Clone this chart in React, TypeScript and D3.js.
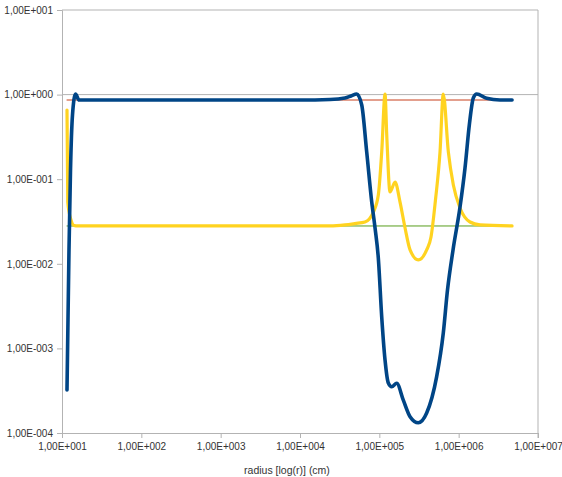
import React, { useRef, useEffect } from "react";
import * as d3 from "d3";

// series 1 (blue)
const blueR = [11.56, 11.9, 12.25, 12.8, 13.56, 14.8, 16.38, 19.5, 100, 1000, 10000, 23900, 36900, 44000, 51900, 60000, 69300, 80200, 88300, 97100, 107200, 118000, 129800, 143200, 165600, 200500, 244000, 310000, 395000, 528000, 640000, 723000, 849000, 1040000, 1202000, 1362000, 1530000, 1688000, 2250000, 3320000, 4710000];
const blueV = [3.22e-4, 2.17e-3, 1.46e-2, 0.1285, 0.574, 1.016, 0.863, 0.863, 0.863, 0.863, 0.863, 0.875, 0.912, 0.963, 1.016, 0.753, 0.21, 5.37e-2, 2.65e-2, 1.17e-2, 2.35e-3, 7.29e-4, 3.9e-4, 3.52e-4, 3.87e-4, 2.45e-4, 1.56e-4, 1.32e-4, 1.72e-4, 4.63e-4, 1.52e-3, 4.9e-3, 1.46e-2, 4.69e-2, 0.1355, 0.4375, 0.912, 1.016, 0.904, 0.863, 0.863];

// series 3 (yellow)
const yellowR = [11.56, 11.83, 12.98, 14.16, 15.91, 100, 1000, 10000, 23900, 36900, 49300, 65900, 84000, 97100, 107200, 118000, 124000, 136400, 157800, 182400, 211000, 244000, 310000, 395000, 448000, 510000, 582000, 640000, 741000, 857000, 1040000, 1390000, 1860000, 4710000];
const yellowV = [0.658, 5.37e-2, 3.3e-2, 2.84e-2, 2.8e-2, 2.8e-2, 2.8e-2, 2.8e-2, 2.8e-2, 2.88e-2, 2.99e-2, 3.12e-2, 4.09e-2, 6.5e-2, 0.21, 1.016, 0.333, 7.06e-2, 9.27e-2, 5.37e-2, 2.65e-2, 1.46e-2, 1.11e-2, 1.46e-2, 2.07e-2, 5.68e-2, 0.21, 1.016, 0.21, 8.53e-2, 4.57e-2, 3.12e-2, 2.88e-2, 2.8e-2];

// series 2 (red) and 4 (green), constant
const redR = [11.56, 4710000];
const redV = [0.863, 0.863];
const greenR = [11.56, 4710000];
const greenV = [0.028, 0.028];

const xTicks = [1e1, 1e2, 1e3, 1e4, 1e5, 1e6, 1e7];
const xTickLabels = ["1,00E+001", "1,00E+002", "1,00E+003", "1,00E+004", "1,00E+005", "1,00E+006", "1,00E+007"];
const yTicks = [1e1, 1e0, 1e-1, 1e-2, 1e-3, 1e-4];
const yTickLabels = ["1,00E+001", "1,00E+000", "1,00E-001", "1,00E-002", "1,00E-003", "1,00E-004"];

export default function App() {
  const ref = useRef<SVGSVGElement>(null);

  useEffect(() => {
    if (!ref.current) return;
    const svg = d3.select(ref.current);
    svg.selectAll("*").remove();

    const left = 62, right = 538, top = 10, bottom = 433;
    const x = d3.scaleLog().domain([1e1, 1e7]).range([left, right]);
    const y = d3.scaleLog().domain([1e-4, 1e1]).range([bottom, top]);
    const axisColor = "#b3b3b3";
    const font = "'Liberation Sans', Arial, sans-serif";

    // grid lines (only 1e1 and 1e0) and right border
    [1e1, 1e0].forEach((v) => {
      svg.append("line")
        .attr("x1", left).attr("x2", right)
        .attr("y1", y(v)).attr("y2", y(v))
        .attr("stroke", axisColor).attr("stroke-width", 1);
    });
    svg.append("line")
      .attr("x1", right).attr("x2", right)
      .attr("y1", top).attr("y2", bottom + 5)
      .attr("stroke", axisColor);

    // Y axis
    const yAxis = svg.append("g")
      .attr("transform", `translate(${left},0)`)
      .call(d3.axisLeft(y).tickValues(yTicks).tickSize(5).tickPadding(4)
        .tickFormat((_d, i) => yTickLabels[i]));
    // X axis
    const xAxis = svg.append("g")
      .attr("transform", `translate(0,${bottom})`)
      .call(d3.axisBottom(x).tickValues(xTicks).tickSize(5).tickPadding(5)
        .tickFormat((_d, i) => xTickLabels[i]));

    [yAxis, xAxis].forEach((g) => {
      g.select(".domain").attr("stroke", axisColor);
      g.selectAll(".tick line").attr("stroke", axisColor);
      g.selectAll("text")
        .attr("fill", "#333")
        .attr("font-size", "10px")
        .attr("font-family", font);
    });

    svg.append("text")
      .attr("x", 287).attr("y", 474)
      .attr("text-anchor", "middle")
      .attr("fill", "#333")
      .attr("font-size", "10.5px")
      .attr("font-family", font)
      .text("radius [log(r)] (cm)");

    const line = d3.line<[number, number]>()
      .x((d) => x(d[0]))
      .y((d) => y(d[1]))
      .curve(d3.curveMonotoneX);

    const series = [
      { r: redR, v: redV, color: "#c8401c", w: 1 },
      { r: greenR, v: greenV, color: "#579d1c", w: 1 },
      { r: yellowR, v: yellowV, color: "#ffd320", w: 3.2 },
      { r: blueR, v: blueV, color: "#004586", w: 3.6 },
    ];

    series.forEach((s) => {
      svg.append("path")
        .datum(s.r.map((r, i) => [r, s.v[i]] as [number, number]))
        .attr("d", line)
        .attr("fill", "none")
        .attr("stroke", s.color)
        .attr("stroke-width", s.w)
        .attr("stroke-linejoin", "round")
        .attr("stroke-linecap", "round");
    });
  }, []);

  return (
    <svg
      ref={ref}
      width={562}
      height={477}
      style={{ position: "absolute", left: 0, top: 0, background: "#fff" }}
    />
  );
}
